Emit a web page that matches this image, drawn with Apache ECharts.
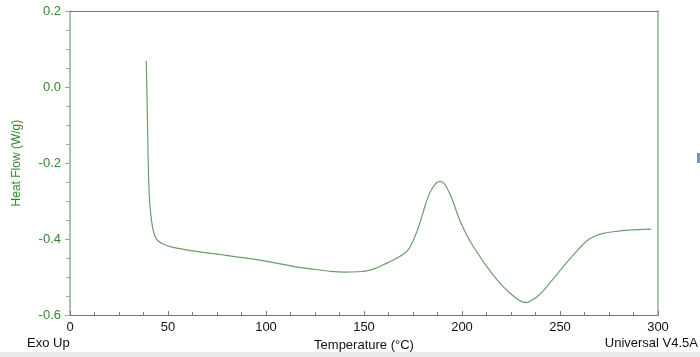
<!DOCTYPE html>
<html>
<head>
<meta charset="UTF-8">
<title>Heat Flow</title>
<script src="https://cdn.jsdelivr.net/npm/echarts@6.0.0/dist/echarts.min.js"></script>
<style>
  html, body { margin: 0; padding: 0; background: #fff; }
  #chart { width: 700px; height: 357px; }
</style>
</head>
<body>
<div id="chart"></div>
<script>
// temperature (°C) and heat flow (W/g)
var temps = [38.9, 39.2, 39.5, 39.8, 40.1, 40.6, 41.2, 41.9, 42.6, 43.6, 45.0, 47.5, 52.6, 60, 68, 76, 85, 93, 100, 108, 116, 125, 133, 140, 147, 152, 156, 160, 165, 170, 173, 175, 177, 179, 181, 183, 185, 187, 189, 191, 193, 195, 197, 199, 201, 203, 205, 208, 212, 216, 220, 224, 228, 231, 233, 235, 238, 242, 246, 250, 254, 258, 262, 265, 268, 272, 278, 284, 290, 296.5];
var heatFlow = [0.069, 0.0, -0.08, -0.17, -0.24, -0.30, -0.335, -0.362, -0.380, -0.395, -0.405, -0.413, -0.422, -0.429, -0.435, -0.440, -0.447, -0.452, -0.458, -0.466, -0.474, -0.480, -0.485, -0.487, -0.486, -0.483, -0.477, -0.467, -0.455, -0.440, -0.425, -0.405, -0.38, -0.35, -0.315, -0.285, -0.265, -0.252, -0.248, -0.255, -0.272, -0.295, -0.325, -0.352, -0.375, -0.395, -0.413, -0.437, -0.468, -0.495, -0.52, -0.54, -0.557, -0.566, -0.567, -0.563, -0.553, -0.533, -0.508, -0.483, -0.458, -0.435, -0.413, -0.400, -0.392, -0.385, -0.380, -0.377, -0.375, -0.374];

var font = 'Liberation Sans';
var green = '#2f8a2f';

var points = temps.map(function (t, i) { return [t, heatFlow[i]]; });

var chart = echarts.init(document.getElementById('chart'));
chart.setOption({
  animation: false,
  grid: { left: 70, right: 42, top: 11, bottom: 41 },
  xAxis: [{
    type: 'value', min: 0, max: 300, interval: 50,
    name: 'Temperature (°C)', nameLocation: 'middle', nameGap: 22,
    nameTextStyle: { fontFamily: font, fontSize: 13, color: '#111' },
    axisLine: { onZero: false, lineStyle: { color: '#777', width: 1.2 } },
    axisTick: { inside: true, length: 4, lineStyle: { color: '#777' } },
    minorTick: { show: true, splitNumber: 4, length: 3, lineStyle: { color: '#777' } },
    axisLabel: { fontFamily: font, fontSize: 13, color: '#111', margin: 6 },
    splitLine: { show: false }
  }, {
    type: 'value', min: 0, max: 300, position: 'top',
    axisLine: { onZero: false, lineStyle: { color: '#777', width: 1.2 } },
    axisTick: { show: false }, axisLabel: { show: false }, splitLine: { show: false }
  }],
  yAxis: [{
    type: 'value', min: -0.6, max: 0.2, interval: 0.2,
    name: 'Heat Flow (W/g)', nameLocation: 'middle', nameGap: 47,
    nameTextStyle: { fontFamily: font, fontSize: 12, color: green },
    axisLine: { show: true, onZero: false, lineStyle: { color: '#8db38d', width: 1.5 } },
    axisTick: { length: 5, lineStyle: { color: '#8db38d' } },
    minorTick: { show: true, splitNumber: 4, length: 4, lineStyle: { color: '#8db38d' } },
    axisLabel: {
      fontFamily: font, fontSize: 13, color: green, margin: 9,
      formatter: function (v) { return v.toFixed(1); }
    },
    splitLine: { show: false }
  }, {
    type: 'value', min: -0.6, max: 0.2, position: 'right',
    axisLine: { show: true, onZero: false, lineStyle: { color: '#8db38d', width: 1.5 } },
    axisTick: { show: false }, axisLabel: { show: false }, splitLine: { show: false }
  }],
  graphic: [
    { type: 'rect', left: 0, top: 352, shape: { width: 700, height: 5 }, style: { fill: '#ebe9ea' } },
    { type: 'rect', left: 697, top: 153, shape: { width: 3, height: 10 }, style: { fill: '#7d90b0' } },
    { type: 'text', left: 27, top: 337, style: { text: 'Exo Up', font: '13px "Liberation Sans"', fill: '#111' } },
    { type: 'text', right: 2, top: 337, style: { text: 'Universal V4.5A', font: '13px "Liberation Sans"', fill: '#111' } }
  ],
  series: [{
    type: 'line',
    data: points,
    showSymbol: false,
    smooth: 0.2,
    lineStyle: { color: '#6b9e6b', width: 1.2 }
  }]
});
</script>
</body>
</html>
